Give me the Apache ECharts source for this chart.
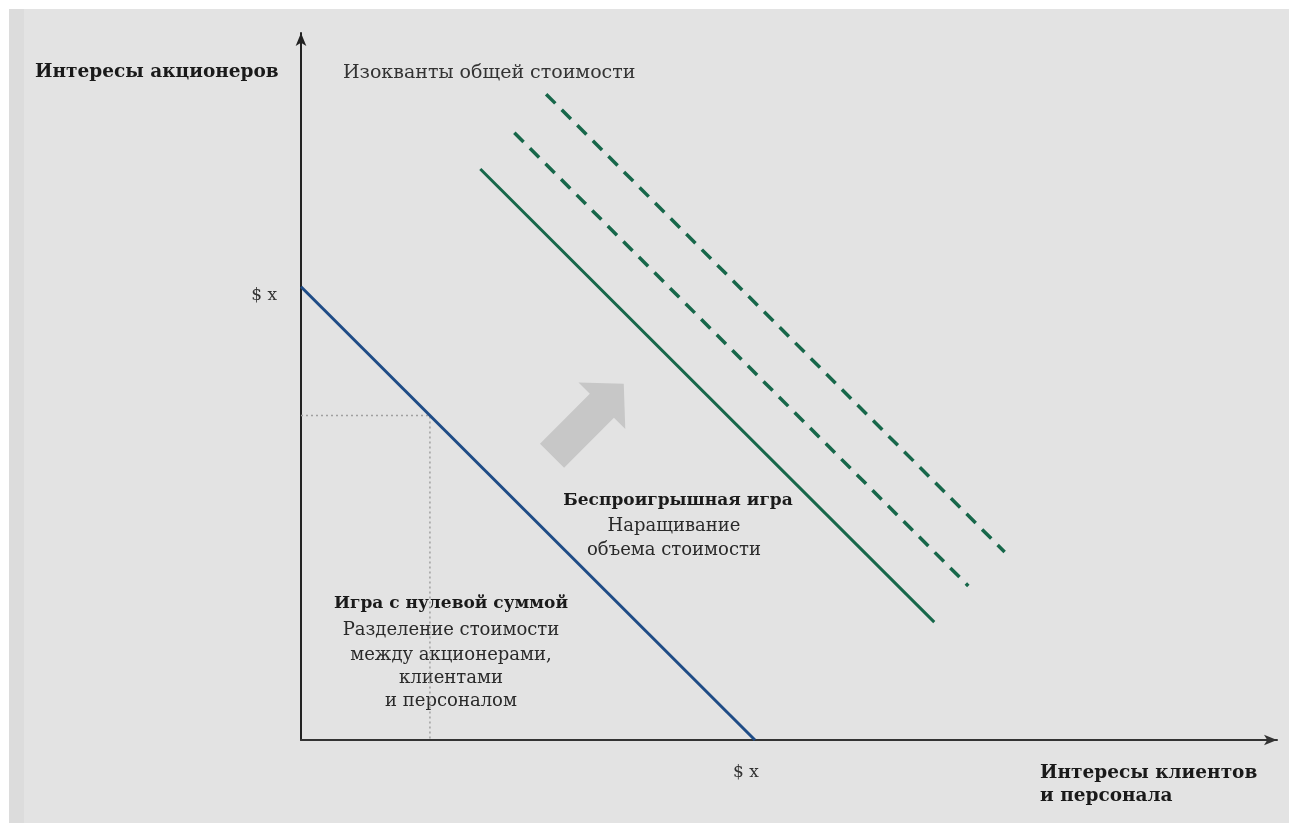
<!DOCTYPE html>
<html>
<head>
<meta charset="utf-8">
<script src="https://cdn.jsdelivr.net/npm/echarts@6/dist/echarts.min.js"></script>
<style>
  html, body { margin: 0; padding: 0; background: #ffffff; }
  #chart { position: absolute; left: 9px; top: 9px; width: 1280px; height: 814px; background: #e3e3e3; }
</style>
</head>
<body>
<div id="chart"></div>
<script>
// Axis ranges (shares of value; $x = 100)
const xMax = 215;
const yMax = 156;
const dollarX = 100;
const tickLabel = '$ x';

// Zero-sum line: x + y = $x
const zeroSumLine = [[0, 100], [100, 0]];
// Iso-value lines of total value (solid and two dashed)
const isoSolid = [[39.5, 126], [139.5, 26]];
const isoDashed1 = [[47, 134], [147, 34]];
const isoDashed2 = [[54, 142.5], [155, 41.5]];
// Split point on the zero-sum line (dotted guides)
const splitPoint = [28.4, 71.6];
// Growth arrow: tail and tip
const growthArrow = [[55.3, 62.7, 71.1, 78.6]];

const serif = '"DejaVu Serif", "Liberation Serif", serif';
const blue = '#1f4c86';
const green = '#17674a';

const chart = echarts.init(document.getElementById('chart'));

function textEl(x, y, text, opts) {
  return {
    type: 'text', x: x, y: y,
    style: Object.assign({
      text: text, fill: '#2a2a2a', font: '18px ' + serif,
      textAlign: 'center', textVerticalAlign: 'middle'
    }, opts || {})
  };
}

chart.setOption({
  animation: false,
  backgroundColor: '#e3e3e3',
  grid: { left: 292, right: 12, top: 24, bottom: 83 },
  xAxis: {
    type: 'value', min: 0, max: xMax, interval: dollarX,
    splitLine: { show: false },
    axisTick: { show: false },
    axisLine: { show: true, symbol: ['none', 'arrow'], symbolSize: [8, 13],
      lineStyle: { color: '#333', width: 2 } },
    axisLabel: {
      showMinLabel: false, showMaxLabel: false, margin: 24,
      padding: [0, 18, 0, 0],
      formatter: v => (v === dollarX ? tickLabel : ''),
      fontFamily: serif, fontSize: 17, color: '#333'
    }
  },
  yAxis: {
    type: 'value', min: 0, max: yMax, interval: dollarX,
    splitLine: { show: false },
    axisTick: { show: false },
    axisLine: { show: true, symbol: ['none', 'arrow'], symbolSize: [8, 13],
      lineStyle: { color: '#222', width: 2 } },
    axisLabel: {
      showMinLabel: false, showMaxLabel: false, margin: 24,
      verticalAlign: 'top',
      formatter: v => (v === dollarX ? tickLabel : ''),
      fontFamily: serif, fontSize: 17, color: '#333'
    }
  },
  series: [
    {
      type: 'line', data: [[0, splitPoint[1]], splitPoint, [splitPoint[0], 0]],
      symbol: 'none', silent: true,
      lineStyle: { color: '#a0a0a0', width: 1.5, type: [2, 3] }, z: 1
    },
    {
      type: 'custom', data: growthArrow, silent: true, z: 1,
      renderItem: function (params, api) {
        const a = api.coord([api.value(0), api.value(1)]);
        const b = api.coord([api.value(2), api.value(3)]);
        const dx = b[0] - a[0], dy = b[1] - a[1];
        const L = Math.hypot(dx, dy);
        const ux = dx / L, uy = dy / L, px = -uy, py = ux;
        const headLen = 31, headHalf = 33, shaftHalf = 17;
        const bx = b[0] - ux * headLen, by = b[1] - uy * headLen;
        const pts = [
          [a[0] + px * shaftHalf, a[1] + py * shaftHalf],
          [bx + px * shaftHalf, by + py * shaftHalf],
          [bx + px * headHalf, by + py * headHalf],
          [b[0], b[1]],
          [bx - px * headHalf, by - py * headHalf],
          [bx - px * shaftHalf, by - py * shaftHalf],
          [a[0] - px * shaftHalf, a[1] - py * shaftHalf]
        ];
        return { type: 'polygon', shape: { points: pts }, style: { fill: '#c7c7c7' } };
      }
    },
    {
      type: 'line', data: zeroSumLine, symbol: 'none', silent: true,
      lineStyle: { color: blue, width: 3 }, z: 3
    },
    {
      type: 'line', data: isoSolid, symbol: 'none', silent: true,
      lineStyle: { color: green, width: 3 }, z: 3
    },
    {
      type: 'line', data: isoDashed1, symbol: 'none', silent: true,
      lineStyle: { color: green, width: 3.5, type: [13, 9] }, z: 3
    },
    {
      type: 'line', data: isoDashed2, symbol: 'none', silent: true,
      lineStyle: { color: green, width: 3.5, type: [13, 9] }, z: 3
    }
  ],
  graphic: [
    { type: 'rect', x: 0, y: 0, shape: { width: 15, height: 814 }, style: { fill: '#dcdcdc' }, z: -1 },
    textEl(26, 63, 'Интересы акционеров', { font: 'bold 18.5px ' + serif, textAlign: 'left', fill: '#1a1a1a' }),
    textEl(334, 64, 'Изокванты общей стоимости', { font: '19px ' + serif, textAlign: 'left', fill: '#333' }),
    textEl(669, 492, 'Беспроигрышная игра', { font: 'bold 17px ' + serif, fill: '#1a1a1a' }),
    textEl(665, 517, 'Наращивание'),
    textEl(665, 541, 'объема стоимости'),
    textEl(442, 595, 'Игра с нулевой суммой', { font: 'bold 17px ' + serif, fill: '#1a1a1a' }),
    textEl(442, 621, 'Разделение стоимости'),
    textEl(442, 646, 'между акционерами,'),
    textEl(442, 669, 'клиентами'),
    textEl(442, 692, 'и персоналом'),
    textEl(1031, 764, 'Интересы клиентов', { font: 'bold 18.5px ' + serif, textAlign: 'left', fill: '#1a1a1a' }),
    textEl(1031, 787, 'и персонала', { font: 'bold 18.5px ' + serif, textAlign: 'left', fill: '#1a1a1a' })
  ]
});
</script>
</body>
</html>
